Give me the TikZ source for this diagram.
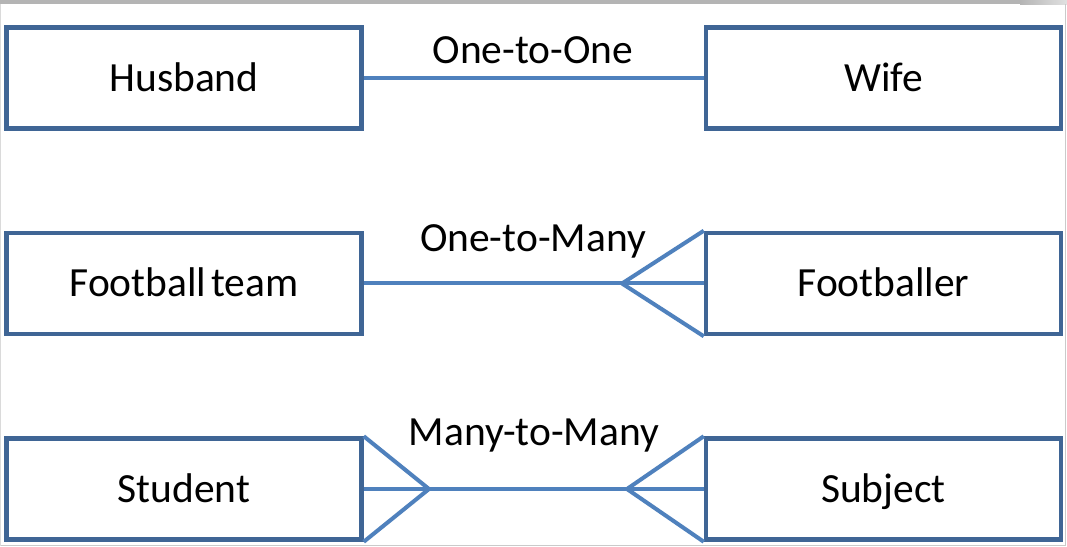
\documentclass[tikz,border=0pt]{standalone}
\usepackage{fontspec}
\setmainfont{Carlito}
\definecolor{boxblue}{HTML}{3F6595}
\definecolor{linkblue}{HTML}{4F81BD}
\definecolor{framegray}{HTML}{B4B4B4}
\begin{document}
\begin{tikzpicture}[x=1bp,y=-1bp,
  entity/.style={draw=boxblue, line width=4.5bp, fill=white, minimum width=355bp, minimum height=101bp, inner sep=0pt, text height=27bp, text depth=0bp, font=\fontsize{41.5bp}{48bp}\selectfont},
  relname/.style={anchor=base, inner sep=0pt, font=\fontsize{41.5bp}{48bp}\selectfont},
  link/.style={draw=linkblue, line width=4bp}]
\useasboundingbox (0,0) rectangle (1067,547);
\fill[white] (0,0) rectangle (1067,547);
% frame
\fill[framegray] (0,0) rectangle (1020,4.5);
\shade[left color=framegray, right color=framegray!40] (1020,0) rectangle (1067,4.5);
\draw[framegray!70, line width=1.2bp] (1065.5,4.5) -- (1065.5,546);
\draw[framegray!70, line width=1.2bp] (0,545.5) -- (1066,545.5);
\draw[framegray!50, line width=1bp] (0.6,4.5) -- (0.6,546);
% row 1
\node[entity] (husband) at (184,78) {Husband};
\node[entity] (wife) at (883.5,78) {Wife};
\draw[link] (husband.east) -- (wife.west);
\node[relname] (l1) at (533,64) {One-to-One};
% row 2
\node[entity] (team) at (184,283.5) {Football\hspace{0.12em}team};
\node[entity] (player) at (883.5,283.5) {Footballer};
\coordinate (v2) at (622,283.5);
\draw[link] (team.east) -- (player.west);
\draw[link, line join=round] (player.north west) -- (v2) -- (player.south west);
\node[relname] (l2) at (533,252) {One-to-Many};
% row 3
\node[entity] (student) at (184,489) {Student};
\node[entity] (subject) at (883.5,489) {Subject};
\coordinate (v3a) at (429,489);
\coordinate (v3b) at (627,489);
\draw[link] (student.east) -- (subject.west);
\draw[link, line join=round] (student.north east) -- (v3a) -- (student.south east);
\draw[link, line join=round] (subject.north west) -- (v3b) -- (subject.south west);
\node[relname] (l3) at (534,445) {Many-to-Many};
\end{tikzpicture}
\end{document}
